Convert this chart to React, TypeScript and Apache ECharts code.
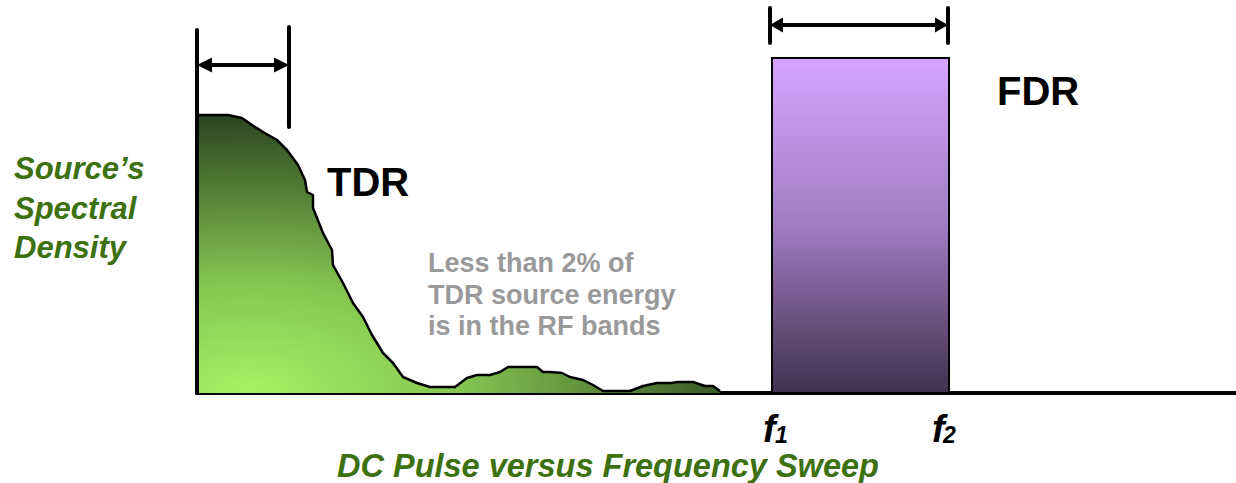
import React, { useEffect, useRef } from "react";
import * as echarts from "echarts";

// TDR source spectrum (frequency units 0..1039, density units 0..393)
const tdrFreq = [0, 31, 45, 55, 66, 80, 90, 101, 108, 110, 116, 116, 126, 135, 136, 146, 156, 166, 175, 183, 186, 196, 206, 220, 233, 258, 270, 280, 293, 303, 311, 340, 346, 353, 365, 373, 386, 396, 406, 433, 446, 460, 475, 480, 496, 508, 516, 523];
const tdrDensity = [278, 278, 275, 268, 261, 253, 243, 228, 213, 201, 198, 185, 160, 143, 128, 110, 90, 76, 58, 45, 40, 30, 16, 10, 6, 6, 15, 18, 18, 21, 26, 26, 21, 21, 20, 16, 13, 8, 2, 2, 7, 10, 10, 11, 11, 7, 7, 2];

// FDR swept band
const fdrBand = [575, 752]; // f1, f2
const fdrLevel = 335;

// annotation brackets
const tdrWindow = [0, 92];
const tdrArrowLevel = 328;
const tdrBarRange = [266, 366];
const fdrArrowLevel = 368;
const fdrBarRange = [350, 385];
const densityAxisTop = 363;

const xMax = 1039;
const yMax = 393;

const FONT = '"Liberation Sans", Arial, Helvetica, sans-serif';
const GREEN = "#3D700E";

function txt(text: string, x: number, y: number, font: string, fill: string, extra: any = {}) {
  return {
    type: "text",
    x,
    y,
    silent: true,
    style: {
      text,
      font,
      fill,
      textAlign: "left",
      align: "left",
      textVerticalAlign: "middle",
      verticalAlign: "middle",
      ...extra,
    },
  };
}

export default function App() {
  const ref = useRef<HTMLDivElement>(null);

  useEffect(() => {
    if (!ref.current) return;
    const chart = echarts.init(ref.current, null, { renderer: "svg" });

    const tdrData = tdrFreq.map((f, i) => [f, tdrDensity[i]]);

    const bar = (x: number, y0: number, y1: number) => [
      { coord: [x, y0], symbol: "none" },
      { coord: [x, y1], symbol: "none" },
    ];
    const arrow = (x0: number, x1: number, y: number, head: number) => [
      { coord: [x0 + head / 2, y], symbol: "triangle", symbolSize: [15, head] },
      { coord: [x1 - head / 2, y], symbol: "triangle", symbolSize: [15, head] },
    ];

    chart.setOption({
      animation: false,
      grid: { left: 197, right: 0, top: 0, bottom: 90 },
      xAxis: {
        type: "value",
        min: 0,
        max: xMax,
        axisLine: { show: true, onZero: false, lineStyle: { color: "#000", width: 4 } },
        axisTick: { show: false },
        axisLabel: { show: false },
        splitLine: { show: false },
      },
      yAxis: {
        type: "value",
        min: 0,
        max: yMax,
        axisLine: { show: false },
        axisTick: { show: false },
        axisLabel: { show: false },
        splitLine: { show: false },
      },
      series: [
        {
          type: "line",
          data: tdrData,
          showSymbol: false,
          symbol: "none",
          silent: true,
          lineStyle: { color: "#000", width: 2.5, join: "round" },
          areaStyle: {
            opacity: 1,
            color: {
              type: "radial",
              x: 0.1,
              y: 1,
              r: 1,
              colorStops: [
                { offset: 0, color: "#A6F264" },
                { offset: 0.4, color: "#84C651" },
                { offset: 1, color: "#2C4420" },
              ],
            },
          },
          z: 2,
          markArea: {
            silent: true,
            itemStyle: {
              color: {
                type: "linear",
                x: 0,
                y: 0,
                x2: 0,
                y2: 1,
                colorStops: [
                  { offset: 0, color: "#D8A4FF" },
                  { offset: 0.5, color: "#A07CC2" },
                  { offset: 1, color: "#41304E" },
                ],
              },
              borderColor: "#000",
              borderWidth: 2,
            },
            data: [[{ coord: [fdrBand[0], fdrLevel] }, { coord: [fdrBand[1], 0] }]],
          },
        },
        {
          type: "line",
          data: [],
          silent: true,
          z: 5,
          markLine: {
            silent: true,
            symbol: ["none", "none"],
            label: { show: false },
            lineStyle: { color: "#000", width: 4, type: "solid", cap: "round" },
            emphasis: { disabled: true },
            data: [
              bar(tdrWindow[0], 0, densityAxisTop),
              bar(tdrWindow[1], tdrBarRange[0], tdrBarRange[1]),
              arrow(tdrWindow[0], tdrWindow[1], tdrArrowLevel, 15),
              bar(fdrBand[0] - 2, fdrBarRange[0], fdrBarRange[1]),
              bar(fdrBand[1] - 1, fdrBarRange[0], fdrBarRange[1]),
              arrow(fdrBand[0] - 2, fdrBand[1] - 1, fdrArrowLevel, 13),
            ],
          },
        },
      ],
      graphic: [
        txt("TDR", 327, 182, `bold 40px ${FONT}`, "#000"),
        txt("FDR", 997, 91, `bold 40px ${FONT}`, "#000"),
        txt(
          "Less than 2% of\nTDR source energy\nis in the RF bands",
          428,
          294.5,
          `bold 27px ${FONT}`,
          "#999999",
          { lineHeight: 31.5 }
        ),
        txt("Source\u2019s\nSpectral\nDensity", 14, 208, `italic bold 31px ${FONT}`, GREEN, {
          lineHeight: 39.5,
        }),
        txt("DC Pulse versus Frequency Sweep", 337, 466, `italic bold 32.5px ${FONT}`, GREEN),
        txt("f", 763, 429, `italic bold 38px ${FONT}`, "#000"),
        txt("1", 775, 435, `italic bold 23px ${FONT}`, "#000"),
        txt("f", 932, 429, `italic bold 38px ${FONT}`, "#000"),
        txt("2", 943, 435, `italic bold 23px ${FONT}`, "#000"),
      ],
    });

    return () => chart.dispose();
  }, []);

  return (
    <div
      ref={ref}
      style={{ position: "fixed", left: 0, top: 0, width: 1236, height: 483, background: "#fff" }}
    />
  );
}
